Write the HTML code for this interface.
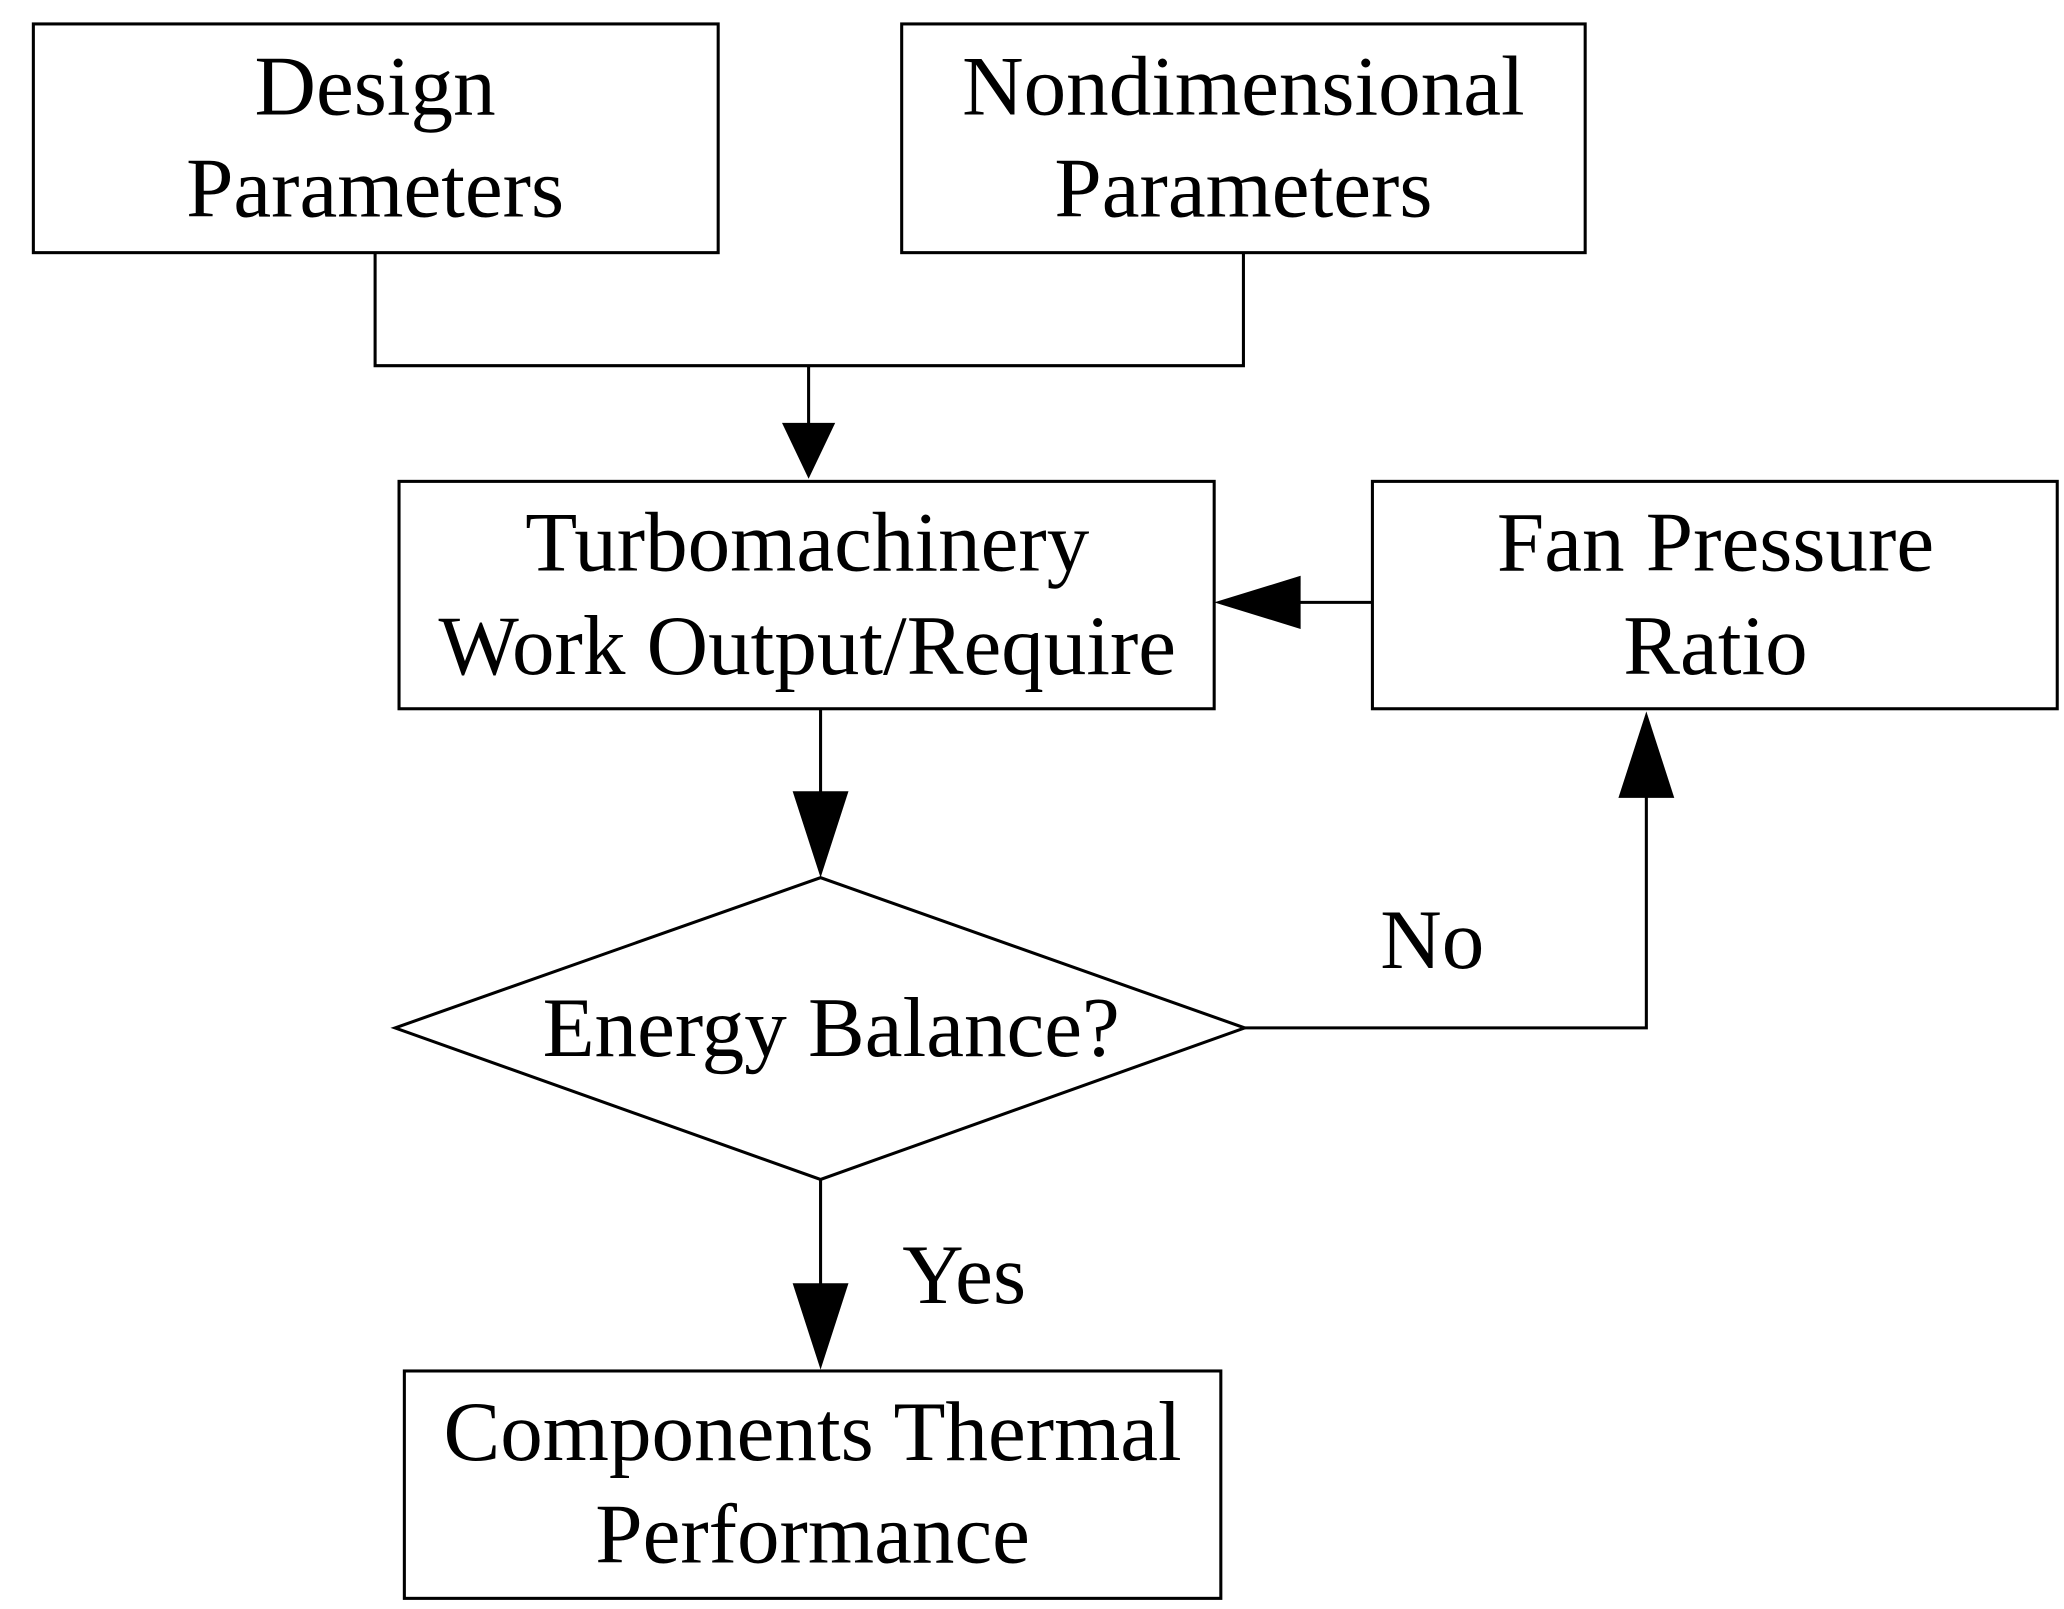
<!DOCTYPE html>
<html><head><style>html,body{margin:0;padding:0;background:#fff}svg{display:block}</style></head>
<body>
<svg width="2064" height="1609" viewBox="0 0 1552 1210" xmlns="http://www.w3.org/2000/svg">
<g fill="none" stroke="#000" stroke-width="2.3">
<rect x="25" y="18" width="515" height="172"/>
<rect x="678" y="18" width="514" height="172"/>
<rect x="300" y="362" width="613" height="171"/>
<rect x="1032" y="362" width="515" height="171"/>
<rect x="304" y="1031" width="614" height="171"/>
<polyline points="282,190 282,275 935,275 935,190"/>
<line x1="608" y1="275" x2="608" y2="320"/>
<line x1="1032" y1="453" x2="975" y2="453"/>
<line x1="617" y1="533" x2="617" y2="600"/>
<polygon points="297,773 617,660 936,773 617,887"/>
<polyline points="936,773 1238,773 1238,595"/>
<line x1="617" y1="887" x2="617" y2="968"/>
</g>
<g fill="#000">
<polygon points="588,318 628,318 608,360"/>
<polygon points="978,433 978,473 913,453"/>
<polygon points="596,595 638,595 617,660"/>
<polygon points="1217,600 1259,600 1238,535"/>
<polygon points="596,965 638,965 617,1030"/>
</g>
<g font-family="'Liberation Serif',serif" font-size="64" text-anchor="middle" fill="#000">
<text x="282" y="86">Design</text>
<text x="282" y="163">Parameters</text>
<text x="935" y="86">Nondimensional</text>
<text x="935" y="163">Parameters</text>
<text x="607" y="429">Turbomachinery</text>
<text x="607" y="507">Work Output/Require</text>
<text x="1290" y="429">Fan Pressure</text>
<text x="1290" y="507">Ratio</text>
<text x="625" y="794">Energy Balance?</text>
<text x="1077" y="728">No</text>
<text x="725" y="980">Yes</text>
<text x="611" y="1098">Components Thermal</text>
<text x="611" y="1175">Performance</text>
</g>
</svg>
</body></html>
